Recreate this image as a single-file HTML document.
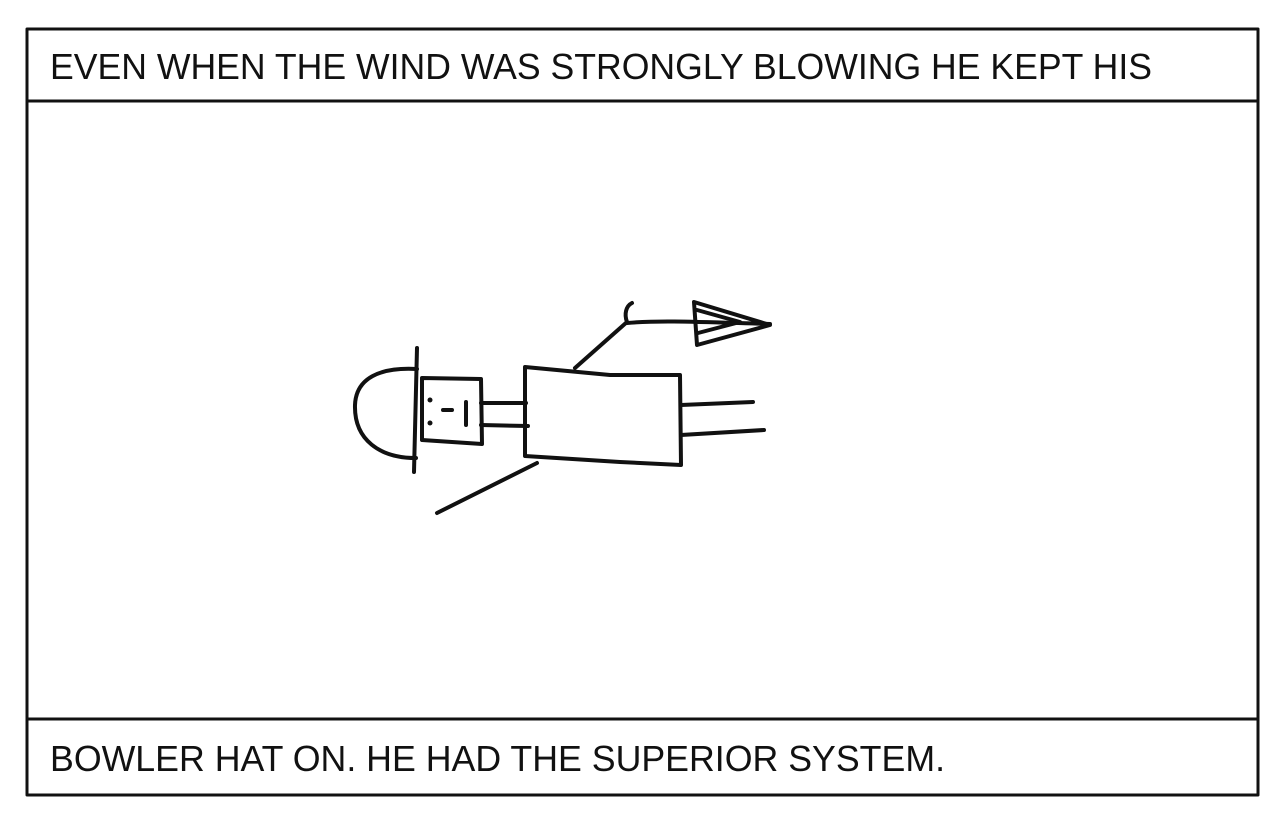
<!DOCTYPE html>
<html><head><style>html,body{margin:0;padding:0;background:#fff;}svg{display:block}</style></head>
<body>
<svg width="1280" height="817" viewBox="0 0 1280 817" xmlns="http://www.w3.org/2000/svg">
<g fill="none" stroke="#111" stroke-width="3" stroke-linecap="round" stroke-linejoin="round">
<rect x="27" y="29" width="1231" height="766"/>
<line x1="27" y1="101" x2="1258" y2="101"/>
<line x1="27" y1="719" x2="1258" y2="719"/>
<g stroke-width="4">
<line x1="417" y1="348" x2="414" y2="472"/>
<path d="M417 369 C380 367 356 378 355 405 C354 440 380 458 416 458"/>
<path d="M422 378 L481 379 L482 444 L422 440 Z"/>
<line x1="443" y1="410" x2="452" y2="410"/>
<line x1="466" y1="402" x2="466" y2="425"/>
<line x1="481" y1="403" x2="526" y2="403"/>
<line x1="481" y1="425" x2="528" y2="426"/>
<path d="M525 367 L610 375 L680 375 L681 465 L620 462 L525 456 Z"/>
<line x1="681" y1="405" x2="753" y2="402"/>
<line x1="681" y1="435" x2="764" y2="430"/>
<path d="M575 368 L627 322 C624 314 626 306 632 303"/>
<path d="M627 323 C660 320 700 322 770 324"/>
<path d="M694 302 L770 325 L697 345 Z"/>
<path d="M697 310 L740 322 L698 333"/>
<line x1="537" y1="463" x2="437" y2="513"/>
</g>
</g>
<g fill="#111">
<circle cx="430" cy="400" r="2.5"/>
<circle cx="430" cy="423" r="2.5"/>
</g>
<g font-family="Liberation Sans, sans-serif" font-size="36" fill="#111">
<text x="50" y="79" textLength="1102" lengthAdjust="spacingAndGlyphs">EVEN WHEN THE WIND WAS STRONGLY BLOWING HE KEPT HIS</text>
<text x="50" y="771" textLength="895" lengthAdjust="spacingAndGlyphs">BOWLER HAT ON. HE HAD THE SUPERIOR SYSTEM.</text>
</g>
</svg>
</body></html>
